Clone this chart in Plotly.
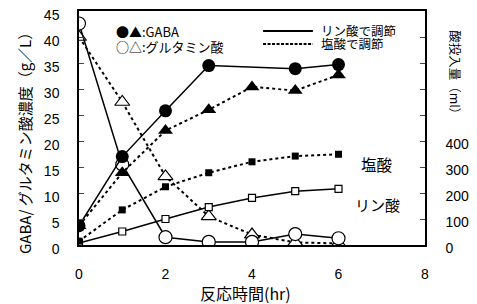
import plotly.graph_objects as go

hours = [0, 1, 2, 3, 4, 5, 6]

gaba_phos_hours = [0, 1, 2, 3, 5, 6]
gaba_phos = [3.7, 17.0, 25.8, 34.5, 33.9, 34.7]
gaba_hcl = [3.7, 13.9, 22.0, 26.0, 30.4, 29.7, 32.7]
glu_phos = [42.6, 15.5, 1.5, 0.6, 0.6, 2.1, 1.3]
glu_hcl = [40.0, 27.5, 13.2, 5.5, 2.0, 0.5, 0.3]
acid_hcl = [15, 135, 224, 278, 320, 342, 349]
acid_phos = [8, 52, 100, 146, 181, 207, 216]

x_ticks = [0, 2, 4, 6, 8]
left_ticks = list(range(0, 46, 5))
right_ticks = list(range(0, 801, 100))
right_labels = ["0", "100", "200", "300", "400", "", "", "", ""]

legend_labels = ["リン酸で調節", "塩酸で調節"]

FONT = "Liberation Sans, Arial, Noto Sans CJK JP"
JP = "Noto Sans CJK JP, Liberation Sans"
DOT = "3px,3px"

fig = go.Figure()

# acid addition (right axis)
fig.add_trace(go.Scatter(x=hours, y=acid_phos, yaxis="y2", mode="lines+markers",
                         line=dict(color="black", width=1.5),
                         marker=dict(symbol="square", size=7, color="white",
                                     line=dict(color="black", width=1.2))))
fig.add_trace(go.Scatter(x=hours, y=acid_hcl, yaxis="y2", mode="lines+markers",
                         line=dict(color="black", width=2, dash=DOT),
                         marker=dict(symbol="square", size=7, color="black")))
# glutamic acid
fig.add_trace(go.Scatter(x=hours, y=glu_hcl, mode="lines+markers",
                         line=dict(color="black", width=2, dash=DOT),
                         marker=dict(symbol="triangle-up", size=13, color="white",
                                     line=dict(color="black", width=1.2))))
fig.add_trace(go.Scatter(x=hours, y=glu_phos, mode="lines+markers",
                         line=dict(color="black", width=1.5),
                         marker=dict(symbol="circle", size=13, color="white",
                                     line=dict(color="black", width=1.2))))
# GABA
fig.add_trace(go.Scatter(x=hours, y=gaba_hcl, mode="lines+markers",
                         line=dict(color="black", width=2, dash=DOT),
                         marker=dict(symbol="triangle-up", size=13, color="black")))
fig.add_trace(go.Scatter(x=gaba_phos_hours, y=gaba_phos, mode="lines+markers",
                         line=dict(color="black", width=1.5),
                         marker=dict(symbol="circle", size=13, color="black")))

# legend key (line samples + labels)
key_y = [0.915, 0.859]
key_dash = ["solid", "3px,1.5px"]
shapes = []
for ky, kd in zip(key_y, key_dash):
    shapes.append(dict(type="line", xref="paper", yref="paper", x0=0.532, x1=0.676,
                       y0=ky, y1=ky, line=dict(color="black", width=2, dash=kd)))

annotations = [
    dict(text="反応時間(hr)", xref="paper", yref="paper", x=0.48, y=-0.205,
         xanchor="center", yanchor="middle", showarrow=False,
         font=dict(family=JP, size=16)),
    dict(text="GABA/ グルタミン酸濃度（g／L）", xref="paper", yref="paper",
         x=-0.156, y=0.449, xanchor="center", yanchor="middle", textangle=-90,
         showarrow=False, font=dict(family=JP, size=15)),
    dict(text="酸投入量（ml）", xref="paper", yref="paper",
         x=1.09, y=0.725, xanchor="center", yanchor="middle", textangle=90,
         showarrow=False, font=dict(family=JP, size=12.5)),
    dict(text="●▲:GABA", xref="paper", yref="paper", x=0.1, y=0.912,
         xanchor="left", yanchor="middle", showarrow=False,
         font=dict(family=JP, size=13)),
    dict(text="○△:グルタミン酸", xref="paper", yref="paper", x=0.1, y=0.848,
         xanchor="left", yanchor="middle", showarrow=False,
         font=dict(family=JP, size=13)),
    dict(text="塩酸", x=6.9, y=15.5, showarrow=False,
         font=dict(family=JP, size=15.5)),
    dict(text="リン酸", x=6.9, y=7.7, showarrow=False,
         font=dict(family=JP, size=15)),
]
for ky, lab in zip(key_y, legend_labels):
    annotations.append(dict(text=lab, xref="paper", yref="paper", x=0.695, y=ky,
                            xanchor="left", yanchor="middle", showarrow=False,
                            font=dict(family=JP, size=12.5)))

fig.update_layout(
    width=469, height=296,
    margin=dict(l=71, r=52, t=3, b=59),
    paper_bgcolor="white", plot_bgcolor="white",
    font=dict(family=FONT, size=14, color="black"),
    showlegend=False,
    xaxis=dict(range=[0, 8], tickvals=x_ticks, showline=True, linecolor="black",
               linewidth=1.5, mirror=True, showgrid=False, zeroline=False,
               ticks="outside", ticklen=15, tickcolor="rgba(0,0,0,0)",
               automargin=False, ticklabeloverflow="allow"),
    yaxis=dict(range=[0, 45], tickvals=left_ticks, showline=True, linecolor="black",
               linewidth=1.5, showgrid=False, zeroline=False, ticks="inside",
               ticklen=5, ticklabelstandoff=15, ticklabelshift=4,
               automargin=False, ticklabeloverflow="allow"),
    yaxis2=dict(range=[0, 900], tickvals=right_ticks, ticktext=right_labels,
                overlaying="y", side="right", showline=True, linecolor="black",
                linewidth=1.5, showgrid=False, zeroline=False, ticks="inside",
                ticklen=5, ticklabelstandoff=16, ticklabelshift=3,
                automargin=False, ticklabeloverflow="allow"),
    shapes=shapes,
    annotations=annotations,
)

fig.write_html("out.html")
